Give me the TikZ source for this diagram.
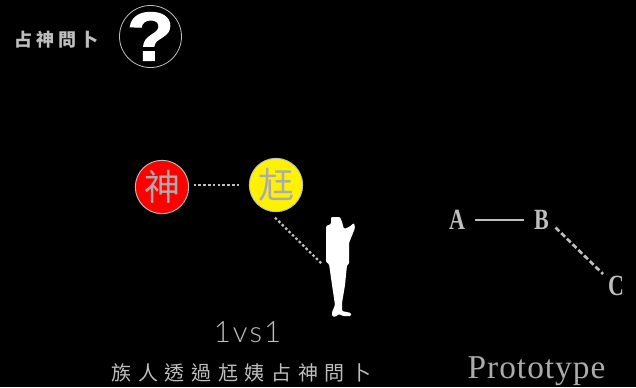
\documentclass[tikz,border=0pt]{standalone}
\usepackage{fontspec}
\usetikzlibrary{calc}
\setmainfont{Liberation Serif}
\newfontfamily\cjk{Noto Sans CJK TC}
\newfontfamily\qfont{Liberation Sans}
\newfontfamily\thinfont{Lato Light}
\definecolor{lbl}{RGB}{190,190,190}
\definecolor{glyph}{RGB}{172,172,172}
\tikzset{
  px/.style={x=0.75pt,y=-0.75pt},
  ball/.style={circle,draw=lbl,line width=0.7pt,minimum size=40pt,inner sep=0pt,text=glyph,font=\cjk\fontsize{27}{27}\selectfont},
  dotline/.style={draw=lbl,line width=1.7pt,dash pattern=on 1.9pt off 1.7pt},
  dashline/.style={draw=lbl,line width=2pt,dash pattern=on 4pt off 2pt},
  letter/.style={text=lbl,inner sep=0pt,font=\fontsize{22}{22}\selectfont\bfseries},
  caption/.style={text=lbl,inner sep=0pt,anchor=base}
}
\begin{document}
\begin{tikzpicture}[px]
\useasboundingbox[fill=black] (0,0) rectangle (636,387);
\node[caption,font=\cjk\bfseries\fontsize{13.5}{14}\selectfont] (title) at (56.5,46.5) {占\hspace{3pt}神\hspace{3pt}問\hspace{3pt}卜};
\node[circle,draw=white!75!black,line width=0.6pt,fill=black,minimum size=46.5pt,inner sep=0pt] (q) at (150.5,36.5) {};
\node[text=white,inner sep=0pt,font=\qfont\bfseries\fontsize{52}{52}\selectfont] (qm) at (q) {\scalebox{1.12}[1]{\addfontfeature{FakeBold=1.5}?}};
\node[ball,fill=red] (shen) at (162,187) {神};
\node[ball,fill=yellow] (ting) at (276,185) {尪};
\fill[white,rounded corners=0.8pt] (326,226) -- (331,224) -- (331,217) -- (340,217) -- (342,222) -- (344,229)
  -- (349,227) -- (354,223) -- (355,228) -- (351,238) -- (349,243) -- (349,264) -- (347,265)
  -- (345,285) -- (342,303) -- (342,311) -- (351,313) -- (351,316) -- (343,316) -- (339,314)
  -- (335,317) -- (332,316) -- (332,312) -- (335,305) -- (332,285) -- (329,264) -- (326,262) -- cycle;
\coordinate (person) at (322,264);
\draw[dotline,shorten <=3.4pt,shorten >=5.5pt] (shen.east |- ting.west) -- (ting.west);
\draw[dotline] ($(ting.south)+(-1,5.5)$) -- (person);
\node[caption,font=\thinfont\fontsize{22}{22}\selectfont] (ratio) at (247.5,342) {1\hspace{1.5pt}v\hspace{1.5pt}s\hspace{1.5pt}1};
\node[caption,font=\cjk\fontsize{15}{15}\selectfont] (sub) at (241.5,380) {族\hspace{5pt}人\hspace{5pt}透\hspace{5pt}過\hspace{5pt}尪\hspace{5pt}姨\hspace{5pt}占\hspace{5pt}神\hspace{5pt}問\hspace{5pt}卜};
\node[letter] (A) at (457,220) {\scalebox{0.75}[1]{A}};
\node[letter] (B) at (541.5,220) {\scalebox{0.75}[1]{B}};
\node[letter] (C) at (616,286) {\scalebox{0.75}[1]{C}};
\draw[draw=lbl,line width=1.9pt,shorten <=7.5pt,shorten >=7.5pt] (A) -- (B);
\draw[dashline] ($(B)+(14,7.5)$) -- ($(C)+(-13,-12)$);
\node[caption,text=lbl!90!black,font=\fontsize{25}{25}\selectfont\addfontfeature{LetterSpace=3}] (proto) at (536.5,378) {Prototype};
\end{tikzpicture}
\end{document}
